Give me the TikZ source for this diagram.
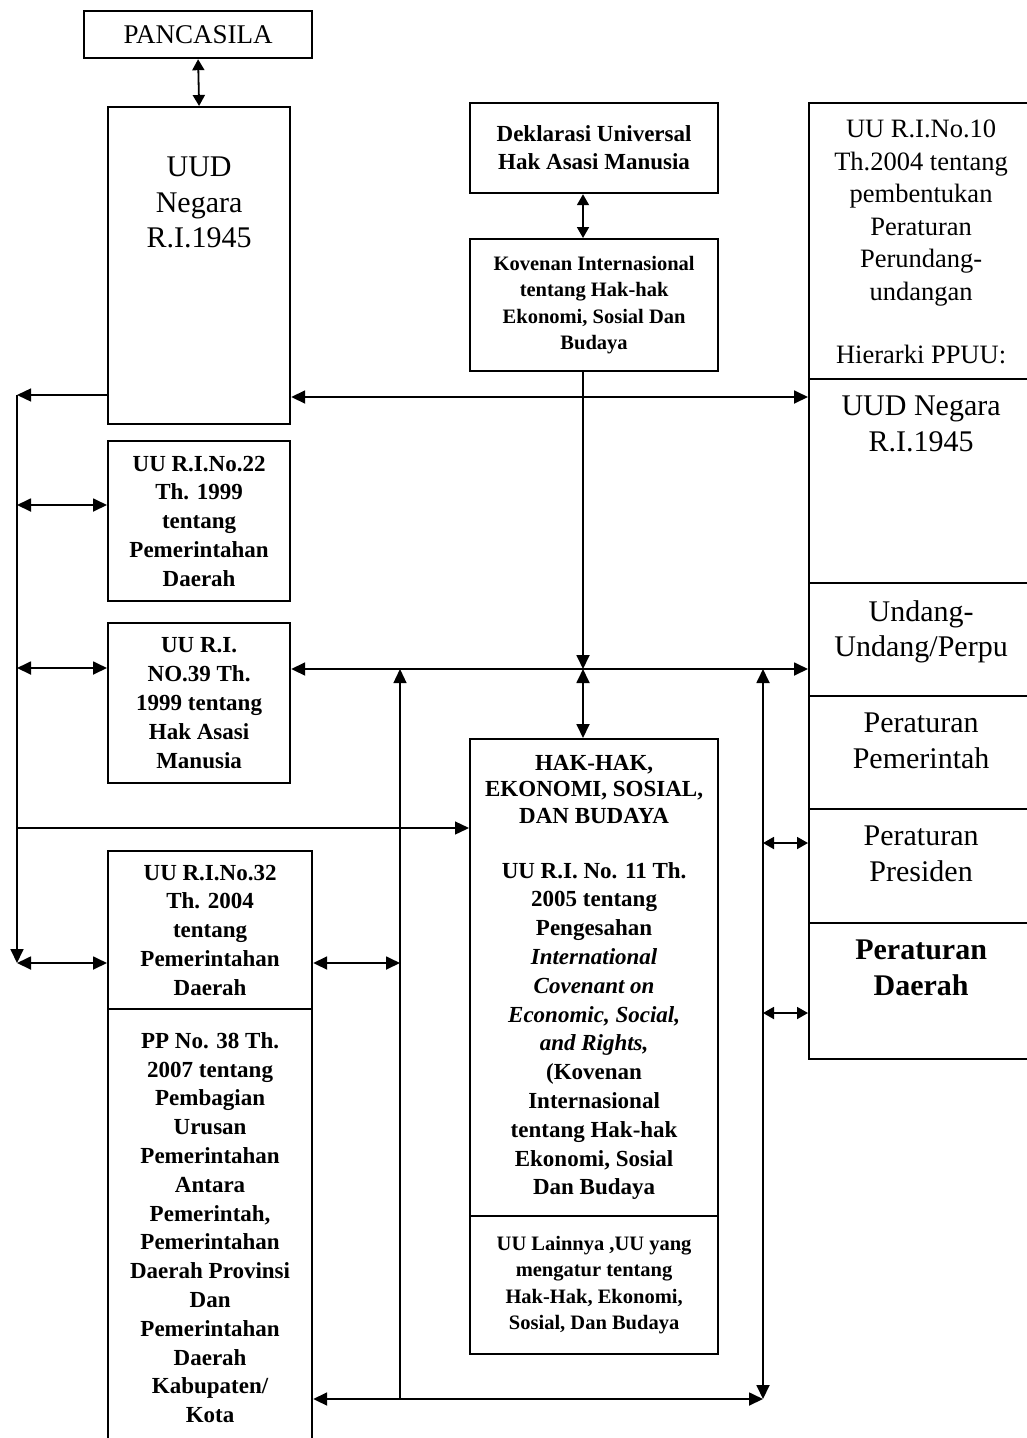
\documentclass[tikz,border=0pt]{standalone}
\usepackage{fontspec}
\setmainfont{Liberation Serif}
\usetikzlibrary{positioning}
\usetikzlibrary{arrows.meta}
\usetikzlibrary{calc}

\begin{document}
\begin{tikzpicture}[
  x=1pt, y=-1pt,
  kotak/.style={draw, line width=2.2pt, anchor=north west, inner sep=0pt, align=center},
  teks/.style={inner sep=0pt, align=center},
  tebal/.style={teks, font=\fontsize{23}{28.8}\selectfont\bfseries},
  kecil/.style={teks, font=\fontsize{20.5}{26.5}\selectfont\bfseries},
  besar/.style={teks, font=\fontsize{30}{35.5}\selectfont},
  sedang/.style={teks, font=\fontsize{26.5}{32.5}\selectfont},
  garis/.style={line width=1.8pt},
  tipis/.style={line width=1.3pt},
  panah/.style={-{Triangle[length=14pt, width=13pt]}},
  dua/.style={{Triangle[length=14pt, width=13pt]}-{Triangle[length=14pt, width=13pt]}},
  duakecil/.style={{Triangle[length=11pt, width=12pt]}-{Triangle[length=11pt, width=12pt]}}
]
\fill[white] (0,0) rectangle (1026,1438);
\useasboundingbox (0,0) rectangle (1026,1438);

% --- left column ---
\node[kotak, teks, minimum width=228, minimum height=47, font=\fontsize{27}{32}\selectfont] (pancasila) at (83,10) {PANCASILA};
\node[kotak, minimum width=182, minimum height=317] (uud) at (107,106) {};
\node[besar, below=51pt of uud.north] (uudteks) {UUD\\Negara\\R.I.1945};
\node[kotak, tebal, minimum width=182, minimum height=160] (uu22) at (107,440) {UU R.I.No.22\\Th. 1999\\tentang\\Pemerintahan\\Daerah};
\node[kotak, tebal, minimum width=182, minimum height=160] (uu39) at (107,622) {UU R.I.\\NO.39 Th.\\1999 tentang\\Hak Asasi\\Manusia};
\node[kotak, tebal, minimum width=204, minimum height=158] (uu32) at (107,850) {UU R.I.No.32\\Th. 2004\\tentang\\Pemerintahan\\Daerah};
\node[kotak, tebal, minimum width=204, minimum height=437] (pp38) at (107,1008) {PP No. 38 Th.\\2007 tentang\\Pembagian\\Urusan\\Pemerintahan\\Antara\\Pemerintah,\\Pemerintahan\\Daerah Provinsi\\Dan\\Pemerintahan\\Daerah\\Kabupaten/\\Kota};

% --- middle column ---
\node[kotak, teks, minimum width=248, minimum height=90, font=\fontsize{23}{28}\selectfont\bfseries] (deklarasi) at (469,102) {Deklarasi Universal\\Hak Asasi Manusia};
\node[kotak, kecil, minimum width=248, minimum height=132] (kovenan) at (469,238) {Kovenan Internasional\\tentang Hak-hak\\Ekonomi, Sosial Dan\\Budaya};
\node[kotak, tebal, minimum width=248, minimum height=477] (hak) at (469,738) {HAK-HAK,\\[-2.5pt]EKONOMI, SOSIAL,\\[-2.5pt]DAN BUDAYA\\[26pt]UU R.I. No. 11 Th.\\2005 tentang\\Pengesahan\\\textit{International}\\\textit{Covenant on}\\\textit{Economic, Social,}\\\textit{and Rights,}\\(Kovenan\\Internasional\\tentang Hak-hak\\Ekonomi, Sosial\\Dan Budaya};
\node[kotak, kecil, minimum width=248, minimum height=138] (lainnya) at (469,1215) {UU Lainnya ,UU yang\\mengatur tentang\\Hak-Hak, Ekonomi,\\Sosial, Dan Budaya};

% --- right column: hierarki ---
\node[kotak, minimum width=224, minimum height=276] (ppuu0) at (808,102) {};
\node[sedang, below=18pt of ppuu0.north] (ppuu0teks) {UU R.I.No.10\\Th.2004 tentang\\pembentukan\\Peraturan\\Perundang-\\undangan\\[31pt]Hierarki PPUU:};
\node[kotak, minimum width=224, minimum height=204] (ppuu1) at (808,378) {};
\node[besar, below=18pt of ppuu1.north] (ppuu1teks) {UUD Negara\\R.I.1945};
\node[kotak, minimum width=224, minimum height=113] (ppuu2) at (808,582) {};
\node[besar, below=18pt of ppuu2.north] (ppuu2teks) {Undang-\\Undang/Perpu};
\node[kotak, minimum width=224, minimum height=113] (ppuu3) at (808,695) {};
\node[besar, below=18pt of ppuu3.north] (ppuu3teks) {Peraturan\\Pemerintah};
\node[kotak, minimum width=224, minimum height=114] (ppuu4) at (808,808) {};
\node[besar, below=18pt of ppuu4.north] (ppuu4teks) {Peraturan\\Presiden};
\node[kotak, minimum width=224, minimum height=136] (ppuu5) at (808,922) {};
\node[besar, font=\fontsize{30}{35.5}\selectfont\bfseries, below=18pt of ppuu5.north] (ppuu5teks) {Peraturan\\Daerah};

% --- junction points ---
\coordinate (kiriatas) at (17,395);
\coordinate (kiri22) at (17,505);
\coordinate (kiri39) at (17,668);
\coordinate (kirihak) at (17,828);
\coordinate (kiribawah) at (17,963);
\coordinate (silangatas) at (583,397);
\coordinate (silang) at (583,669);
\coordinate (tiang) at (400,1399);
\coordinate (sudut) at (763,1399);
\coordinate (pres) at (763,843);
\coordinate (perda) at (763,1013);

% --- connectors ---
\draw[garis, duakecil] (pancasila.south) -- (uud.north);
\draw[tipis, panah] (kiriatas -| uud.west) -- (kiriatas);
\draw[garis, panah] (kiriatas) -- (kiribawah);
\draw[garis, dua] (kiri22) -- (kiri22 -| uu22.west);
\draw[garis, dua] (kiri39) -- (kiri39 -| uu39.west);
\draw[tipis, panah] (kirihak) -- (kirihak -| hak.west);
\draw[garis, dua] (kiribawah) -- (kiribawah -| uu32.west);

\draw[garis, dua] (silangatas -| uud.east) -- (silangatas -| ppuu1.west);
\draw[garis, duakecil] (silang |- deklarasi.south) -- (silang |- kovenan.north);
\draw[garis, panah] (silang |- kovenan.south) -- (silang);
\draw[garis, dua] (silang) -- (silang |- hak.north);
\draw[garis, dua] (silang -| uu39.east) -- (silang -| ppuu2.west);

\draw[tipis, panah] (tiang) -- (tiang |- silang);
\draw[garis, dua] (kiribawah -| uu32.east) -- (kiribawah -| tiang);
\draw[garis, dua] (tiang -| pp38.east) -- (sudut);
\draw[garis, dua] (sudut |- silang) -- (sudut);
\draw[garis, duakecil] (pres) -- (pres -| ppuu4.west);
\draw[garis, duakecil] (perda) -- (perda -| ppuu5.west);

\end{tikzpicture}
\end{document}
